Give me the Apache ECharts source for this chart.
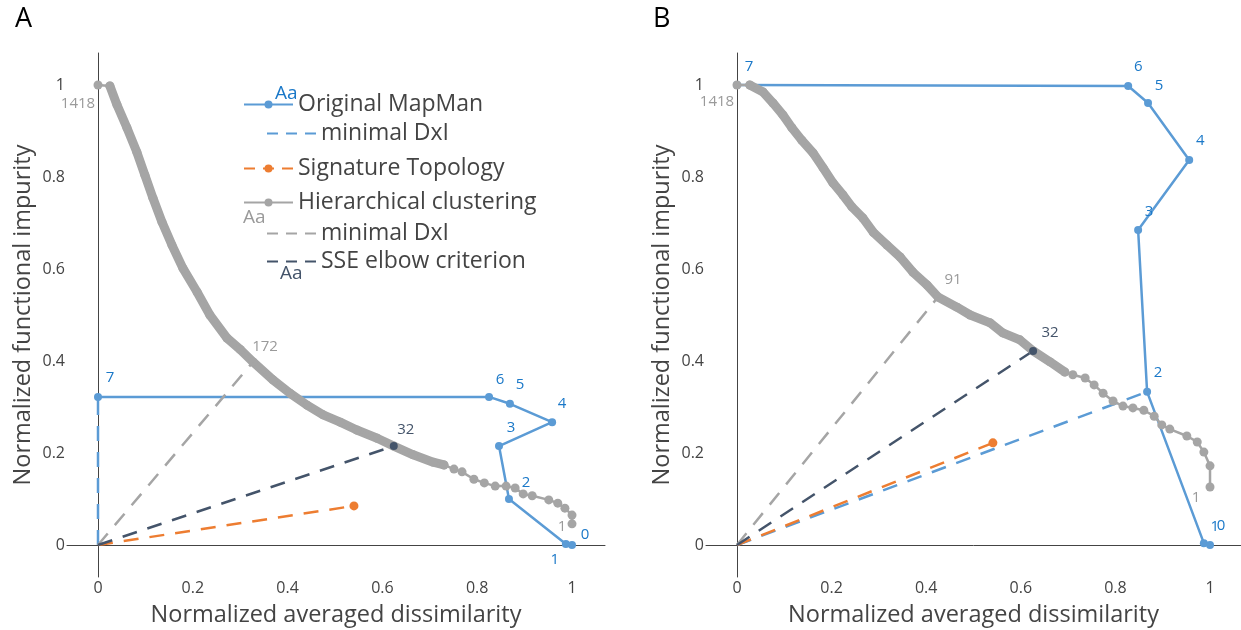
<!DOCTYPE html>
<html>
<head>
<meta charset="utf-8">
<script src="https://cdn.jsdelivr.net/npm/echarts@6/dist/echarts.min.js"></script>
<style>
  html, body { margin: 0; padding: 0; background: #fff; }
  #chart { width: 1241px; height: 630px; }
</style>
</head>
<body>
<div id="chart"></div>
<script>
// tick labels (same on both panels)
const xTicks = [0, 0.2, 0.4, 0.6, 0.8, 1];
const yTicks = [0, 0.2, 0.4, 0.6, 0.8, 1];

// number of clusters at each MapMan level
const mapmanLabels = ['7', '6', '5', '4', '3', '2', '1', '0'];

// ---- panel A ----
const mapmanA = [[0, 0.322], [0.825, 0.322], [0.869, 0.307], [0.958, 0.267], [0.846, 0.215], [0.867, 0.1], [0.987, 0.002], [1, 0]];
const mapmanDxiA = [[0, 0], [0, 0.322]];
const sigTopoA = [[0, 0], [0.54, 0.085]];
const hcA = [
  [0, 1], [0.025, 0.998], [0.04, 0.957], [0.061, 0.907], [0.082, 0.854], [0.099, 0.804],
  [0.116, 0.754], [0.135, 0.702], [0.156, 0.652], [0.179, 0.602], [0.209, 0.55], [0.236, 0.5],
  [0.272, 0.45], [0.3, 0.425], [0.327, 0.398], [0.369, 0.359], [0.405, 0.33], [0.441, 0.304],
  [0.475, 0.283], [0.511, 0.267], [0.546, 0.25], [0.589, 0.232], [0.624, 0.215], [0.665, 0.196],
  [0.707, 0.18], [0.73, 0.174],
  [0.751, 0.165], [0.768, 0.159], [0.793, 0.143], [0.815, 0.135], [0.838, 0.128], [0.861, 0.128],
  [0.88, 0.124], [0.897, 0.111], [0.916, 0.107], [0.951, 0.098], [0.97, 0.091], [0.985, 0.08],
  [1, 0.065], [1, 0.046]
];
const hcDenseEndA = 25;
const hcDxiA = [[0, 0], [0.327, 0.398]];
const hcDxiLabelA = '172';
const sseA = [[0, 0], [0.624, 0.215]];

// ---- panel B ----
const mapmanB = [[0, 1], [0.827, 0.998], [0.869, 0.961], [0.956, 0.837], [0.848, 0.685], [0.867, 0.333], [0.987, 0.004], [1, 0]];
const mapmanDxiB = [[0, 0], [0.867, 0.333]];
const sigTopoB = [[0, 0], [0.541, 0.222]];
const hcB = [
  [0, 1], [0.027, 1.0], [0.055, 0.985], [0.076, 0.961], [0.097, 0.935], [0.116, 0.907],
  [0.137, 0.88], [0.161, 0.852], [0.182, 0.82], [0.203, 0.787], [0.224, 0.761], [0.243, 0.735],
  [0.266, 0.711], [0.288, 0.68], [0.317, 0.652], [0.345, 0.626], [0.372, 0.593], [0.402, 0.565],
  [0.425, 0.539], [0.465, 0.517], [0.493, 0.5], [0.535, 0.483], [0.562, 0.461], [0.598, 0.446],
  [0.626, 0.422], [0.662, 0.398], [0.693, 0.376],
  [0.71, 0.37], [0.736, 0.363], [0.755, 0.348], [0.774, 0.33], [0.795, 0.313], [0.816, 0.302],
  [0.837, 0.298], [0.86, 0.293], [0.882, 0.28], [0.898, 0.261], [0.915, 0.252], [0.951, 0.237],
  [0.973, 0.224], [0.987, 0.202], [1, 0.172], [1, 0.126]
];
const hcDenseEndB = 26;
const hcDxiB = [[0, 0], [0.425, 0.539]];
const hcDxiLabelB = '91';
const sseB = [[0, 0], [0.626, 0.422]];

const sseLabel = '32';
const hcEndLabels = ['1418', '1'];

const FONT = 'Open Sans';
const BLUE = '#5b9bd5', BLUE_TXT = '#1a78c8';
const ORANGE = '#ed7d31';
const GREY = '#a5a5a5', GREY_TXT = '#9a9a9a';
const NAVY = '#44546a';
const AXIS = '#444';
const DASH = [15, 11];

const myChart = echarts.init(document.getElementById('chart'));

function xAxisFor(gi, min, max) {
  return {
    type: 'value', gridIndex: gi, min: min, max: max,
    axisLine: { show: true, onZero: true, lineStyle: { color: AXIS, width: 1 } },
    axisTick: { show: false },
    splitLine: { show: false },
    axisLabel: { customValues: xTicks, margin: 3, color: AXIS, fontSize: 16, fontFamily: FONT },
    name: 'Normalized averaged dissimilarity',
    nameLocation: 'middle', nameGap: 26, nameMoveOverlap: false,
    nameTextStyle: { fontSize: 23.5, color: AXIS, fontFamily: FONT }
  };
}

function yAxisFor(gi) {
  return {
    type: 'value', gridIndex: gi, min: -0.0696, max: 1.0696,
    axisLine: { show: true, onZero: true, lineStyle: { color: AXIS, width: 1 } },
    axisTick: { show: false },
    splitLine: { show: false },
    axisLabel: { customValues: yTicks, margin: 2, color: AXIS, fontSize: 16, fontFamily: FONT },
    name: 'Normalized functional impurity',
    nameLocation: 'middle', nameGap: 32, nameMoveOverlap: false,
    nameTextStyle: { fontSize: 23.5, color: AXIS, fontFamily: FONT }
  };
}

function labelled(pts, texts, offsets) {
  return pts.map((p, i) => ({
    value: p,
    label: { show: true, formatter: texts[i], offset: offsets[i] }
  }));
}

function panelSeries(gi, d) {
  const ax = { xAxisIndex: gi, yAxisIndex: gi };
  const last = d.hc.length - 1;
  const hcData = d.hc.map((p, i) => {
    if (i === 0) return { value: p, label: { show: true, formatter: hcEndLabels[0], offset: d.hcOff[0] } };
    if (i === last) return { value: p, label: { show: true, formatter: hcEndLabels[1], offset: d.hcOff[1] } };
    return p;
  });
  return [
    {
      name: 'Original MapMan', type: 'line', ...ax,
      data: labelled(d.mapman, mapmanLabels, d.mapmanOff),
      symbol: 'circle', symbolSize: 8,
      lineStyle: { color: BLUE, width: 2.5 }, itemStyle: { color: BLUE },
      label: { position: 'inside', color: BLUE_TXT, fontSize: 15, fontFamily: FONT }
    },
    {
      name: 'MapMan minimal DxI', type: 'line', ...ax, data: d.mapmanDxi,
      symbol: 'none', lineStyle: { color: BLUE, width: 2.5, type: DASH }, itemStyle: { color: BLUE }
    },
    {
      name: 'Signature Topology', type: 'line', ...ax,
      data: d.sigTopo.map((p, i) => i === 0 ? { value: p, symbol: 'none' } : p),
      symbol: 'circle', symbolSize: 9,
      lineStyle: { color: ORANGE, width: 2.5, type: DASH }, itemStyle: { color: ORANGE }
    },
    {
      name: 'HC band', type: 'line', ...ax, data: d.hc.slice(1, d.hcDenseEnd + 1),
      symbol: 'none', silent: true,
      lineStyle: { color: GREY, width: 9, cap: 'round', join: 'round' }
    },
    {
      name: 'Hierarchical clustering', type: 'line', ...ax, data: hcData,
      symbol: 'circle', symbolSize: 9,
      lineStyle: { color: GREY, width: 2.5 }, itemStyle: { color: GREY },
      label: { position: 'inside', color: GREY_TXT, fontSize: 15, fontFamily: FONT }
    },
    {
      name: 'HC minimal DxI', type: 'line', ...ax,
      data: [d.hcDxi[0], { value: d.hcDxi[1], symbol: 'circle', symbolSize: 1,
        label: { show: true, formatter: d.hcDxiLabel, offset: d.hcDxiOff } }],
      symbol: 'none', lineStyle: { color: GREY, width: 2.5, type: DASH }, itemStyle: { color: GREY },
      label: { position: 'inside', color: GREY_TXT, fontSize: 15, fontFamily: FONT }
    },
    {
      name: 'SSE elbow criterion', type: 'line', ...ax,
      data: [d.sse[0], { value: d.sse[1], symbol: 'circle', symbolSize: 8,
        label: { show: true, formatter: sseLabel, offset: d.sseOff } }],
      symbol: 'none', lineStyle: { color: NAVY, width: 2.5, type: DASH }, itemStyle: { color: NAVY },
      label: { position: 'inside', color: NAVY, fontSize: 15, fontFamily: FONT }
    }
  ];
}

const seriesA = panelSeries(0, {
  mapman: mapmanA, mapmanOff: [[12, -19], [11, -17], [10, -19], [10, -18], [12, -18], [17, -16], [-11, 16], [13, -10]],
  mapmanDxi: mapmanDxiA, sigTopo: sigTopoA,
  hc: hcA, hcDenseEnd: hcDenseEndA, hcOff: [[-20, 19], [-10, 3]],
  hcDxi: hcDxiA, hcDxiLabel: hcDxiLabelA, hcDxiOff: [12, -15],
  sse: sseA, sseOff: [12, -16]
});
const seriesB = panelSeries(1, {
  mapman: mapmanB, mapmanOff: [[12, -18], [10, -19], [11, -17], [11, -19], [11, -18], [11, -19], [11, -16], [11, -19]],
  mapmanDxi: mapmanDxiB, sigTopo: sigTopoB,
  hc: hcB, hcDenseEnd: hcDenseEndB, hcOff: [[-20, 17], [-14, 11]],
  hcDxi: hcDxiB, hcDxiLabel: hcDxiLabelB, hcDxiOff: [15, -17],
  sse: sseB, sseOff: [17, -18]
});

// legend rows (panel A only): [series name, left, top, dashed, marker]
const legendRows = [
  ['Original MapMan', 243, 93, false, true],
  ['MapMan minimal DxI', 266, 122, true, false],
  ['Signature Topology', 243, 157, true, true],
  ['Hierarchical clustering', 243, 191, false, true],
  ['HC minimal DxI', 266, 222, true, false],
  ['SSE elbow criterion', 266, 250, true, false]
];

const option = {
  animation: false,
  backgroundColor: '#fff',
  textStyle: { fontFamily: FONT },
  grid: [
    { left: 67, top: 53, width: 538, height: 524, containLabel: false, outerBoundsMode: 'none' },
    { left: 706, top: 53, width: 535, height: 524, containLabel: false, outerBoundsMode: 'none' }
  ],
  xAxis: [xAxisFor(0, -0.0654, 1.0696), xAxisFor(1, -0.0655, 1.0655)],
  yAxis: [yAxisFor(0), yAxisFor(1)],
  legend: legendRows.map(r => ({
    data: [r[0]], left: r[1], top: r[2], padding: 0,
    itemWidth: 49, itemHeight: 10, itemGap: 0,
    selectedMode: false,
    formatter: name => name.replace(/^(MapMan|HC) /, ''),
    itemStyle: r[4] ? {} : { opacity: 0 },
    lineStyle: r[3] ? { type: [11, 8] } : {},
    textStyle: { fontSize: 23, color: '#444', fontFamily: FONT }
  })),
  graphic: [
    { type: 'text', left: 15, top: 6, style: { text: 'A', fontSize: 27, fill: '#000', fontFamily: FONT } },
    { type: 'text', left: 653, top: 6, style: { text: 'B', fontSize: 27, fill: '#000', fontFamily: FONT } },
    { type: 'text', left: 275, top: 84, style: { text: 'Aa', fontSize: 19, fill: BLUE_TXT, fontFamily: FONT } },
    { type: 'text', left: 243, top: 208, style: { text: 'Aa', fontSize: 19, fill: GREY_TXT, fontFamily: FONT } },
    { type: 'text', left: 280, top: 264, style: { text: 'Aa', fontSize: 19, fill: NAVY, fontFamily: FONT } }
  ],
  series: seriesA.concat(seriesB)
};

myChart.setOption(option);
</script>
</body>
</html>
